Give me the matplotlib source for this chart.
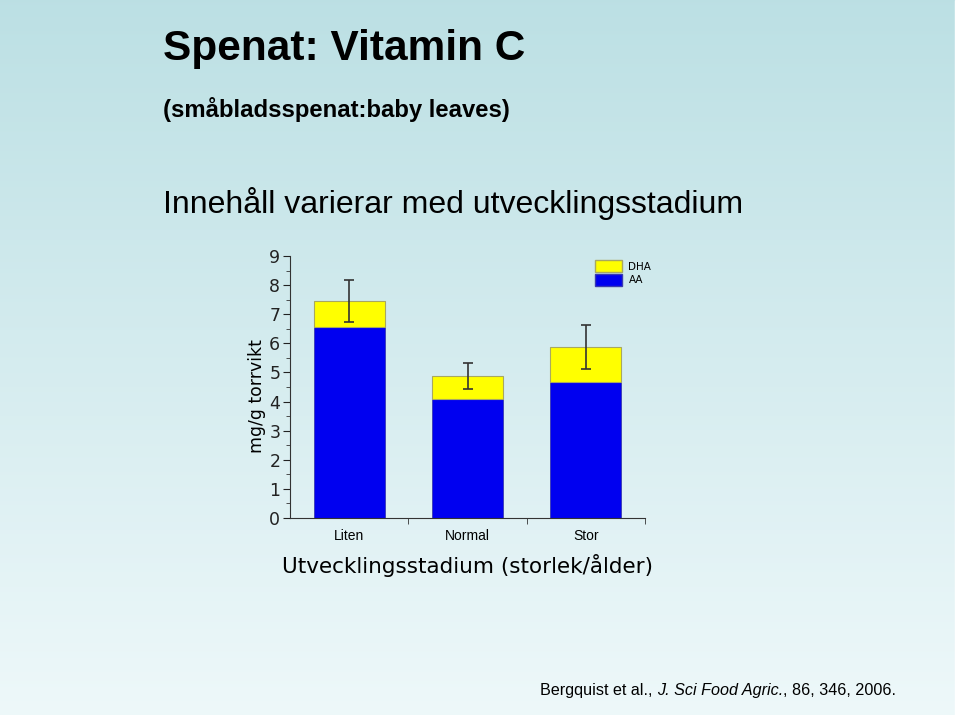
import numpy as np
import matplotlib.pyplot as plt
from matplotlib.patches import Patch

# data
stages = ["Liten", "Normal", "Stor"]
aa = [6.55, 4.10, 4.68]
dha = [0.90, 0.77, 1.20]
err = [0.73, 0.44, 0.75]
y_ticks = [0, 1, 2, 3, 4, 5, 6, 7, 8, 9]

W, H = 960, 715


def px(x, y):
    """pixel position (from top-left) to figure fraction"""
    return x / W, 1 - y / H


def main():
    """main function"""
    fig = plt.figure(figsize=(9.6, 7.15), dpi=100)

    # vertical gradient background
    bg = fig.add_axes([0, 0, 1, 1], zorder=-10)
    top = np.array([0.737, 0.878, 0.894])
    bottom = np.array([0.933, 0.973, 0.980])
    t = np.linspace(0, 1, 256)[:, None, None]
    grad = top * (1 - t) + bottom * t
    grad = np.repeat(grad, 2, axis=1)
    bg.imshow(grad, aspect="auto", extent=[0, 1, 0, 1])
    bg.axvspan(955 / W, 1, color="white")
    bg.set_xlim(0, 1)
    bg.set_ylim(0, 1)
    bg.axis("off")

    # titles
    x0, _ = px(163, 0)
    fig.text(x0, px(0, 60)[1], "Spenat: Vitamin C", fontsize=30.5,
             fontweight="bold", family="Liberation Sans", va="baseline")
    fig.text(x0, px(0, 117)[1], "(småbladsspenat:baby leaves)", fontsize=17.2,
             fontweight="bold", family="Liberation Sans", va="baseline")
    fig.text(x0, px(0, 213)[1], "Innehåll varierar med utvecklingsstadium",
             fontsize=23, family="Liberation Sans", va="baseline")

    # chart
    left, bot = px(290, 518)
    right, topy = px(645, 256)
    ax = fig.add_axes([left, bot, right - left, topy - bot])
    ax.set_facecolor("none")

    x = np.arange(len(stages))
    totals = [a + d for a, d in zip(aa, dha)]
    ax.bar(x, aa, width=0.6, color="#0000f0", edgecolor="#3a3ab0", linewidth=0.6)
    ax.bar(x, dha, bottom=aa, width=0.6, color="#ffff00", edgecolor="#a8a860",
           linewidth=0.8)
    ax.errorbar(x, totals, yerr=err, fmt="none", ecolor="#333333",
                elinewidth=1.2, capsize=3.6, capthick=1.2)

    ax.set_xlim(-0.5, 2.5)
    ax.set_ylim(0, 9)
    ax.set_yticks(y_ticks)
    ax.set_yticks(np.arange(0.5, 9, 1), minor=True)
    ax.set_xticks(x)
    ax.set_xticklabels(stages, family="Liberation Sans", fontsize=10)
    ax.set_xticks([0.5, 1.5, 2.5], minor=True)
    ax.tick_params(axis="x", which="major", length=0, pad=8)
    ax.tick_params(axis="x", which="minor", length=4, direction="out",
                   color="#333333")
    ax.tick_params(axis="y", which="major", length=5, labelsize=12.5,
                   colors="#222222", pad=2)
    ax.tick_params(axis="y", which="minor", length=3, color="#333333")
    for s in ["top", "right"]:
        ax.spines[s].set_visible(False)
    for s in ["left", "bottom"]:
        ax.spines[s].set_color("#333333")

    ax.set_ylabel("mg/g torrvikt", fontsize=12.4, labelpad=0)
    ax.yaxis.set_label_coords(-0.068, 0.466)
    ax.set_xlabel("Utvecklingsstadium (storlek/ålder)", fontsize=15.5, labelpad=8)

    handles = [Patch(facecolor="#ffff00", edgecolor="#a8a860", label="DHA"),
               Patch(facecolor="#0000f0", edgecolor="#3a3ab0", label="AA")]
    ax.legend(handles=handles, loc="upper left", bbox_to_anchor=(0.833, 1.02),
              frameon=False, fontsize=7.5, handlelength=2.6, handleheight=1.4,
              labelspacing=0.15, handletextpad=0.6)

    # citation with italic journal name
    cx, cy = px(540, 695)
    t1 = fig.text(cx, cy, "Bergquist et al., ", fontsize=11.6,
                  family="Liberation Sans", va="baseline")
    t2 = fig.text(0, 0, "J. Sci Food Agric.", fontsize=11.6, style="italic",
                  family="Liberation Sans", va="baseline")
    t3 = fig.text(0, 0, ", 86, 346, 2006.", fontsize=11.6,
                  family="Liberation Sans", va="baseline")
    fig.canvas.draw()
    r = fig.canvas.get_renderer()
    inv = fig.transFigure.inverted()
    e1 = inv.transform(t1.get_window_extent(r))
    t2.set_position((e1[1, 0], cy))
    fig.canvas.draw()
    e2 = inv.transform(t2.get_window_extent(r))
    t3.set_position((e2[1, 0], cy))

    fig.savefig("out.png", dpi=100)


if __name__ == "__main__":
    main()
